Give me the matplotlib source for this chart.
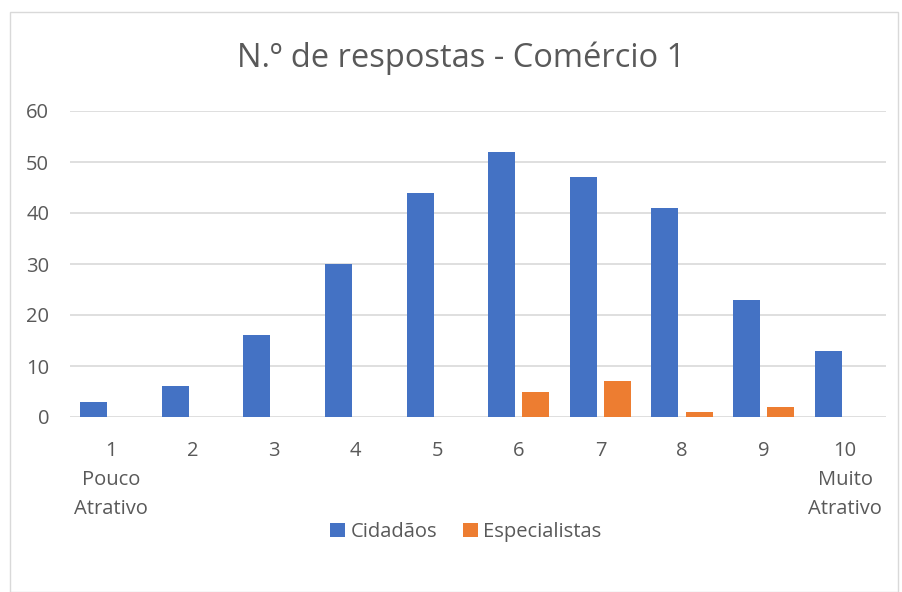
import matplotlib.pyplot as plt
import numpy as np
from matplotlib.patches import Rectangle

categorias = ['1\nPouco\nAtrativo', '2', '3', '4', '5', '6', '7', '8', '9', '10\nMuito\nAtrativo']
cidadaos = [3, 6, 16, 30, 44, 52, 47, 41, 23, 13]
especialistas = [0, 0, 0, 0, 0, 5, 7, 1, 2, 0]

plt.rcParams['font.family'] = ['Open Sans', 'DejaVu Sans']
cinza = '#595959'

fig = plt.figure(figsize=(9.02, 5.92), dpi=100)
# moldura do gráfico
fig.patches.append(Rectangle((10 / 902, 0), 888 / 902, 1 - 12 / 592, transform=fig.transFigure,
                             fill=False, edgecolor='#d9d9d9', linewidth=1))

ax = fig.add_axes([70 / 902, 1 - 417 / 592, 816 / 902, 306 / 592])
x = np.arange(len(categorias))
w = 0.33
ax.bar(x - 0.21, cidadaos, w, color='#4472c4', label='Cidadãos', zorder=3)
ax.bar(x + 0.21, especialistas, w, color='#ed7d31', label='Especialistas', zorder=3)

ax.set_xlim(-0.5, len(categorias) - 0.5)
ax.set_ylim(0, 60)
ax.set_yticks(range(0, 61, 10))
ax.set_xticks(x)
ax.set_xticklabels(categorias, linespacing=1.6, va='top')
ax.tick_params(axis='both', length=0, labelsize=14.5, colors=cinza)
ax.tick_params(axis='x', pad=17)
ax.tick_params(axis='y', pad=15)
ax.grid(axis='y', color='#d9d9d9', linewidth=1.2, zorder=0)
for s in ax.spines.values():
    s.set_visible(False)

fig.text(461 / 902, 1 - 58 / 592, 'N.º de respostas - Comércio 1', ha='center', va='center',
         fontsize=23.5, color=cinza)
fig.legend(loc='center', bbox_to_anchor=(466 / 902, 1 - 532 / 592), ncol=2, frameon=False,
           fontsize=14.5, labelcolor=cinza, handlelength=0.75, handleheight=0.75,
           columnspacing=1.3, handletextpad=0.25)

plt.savefig('out.png', dpi=100)
